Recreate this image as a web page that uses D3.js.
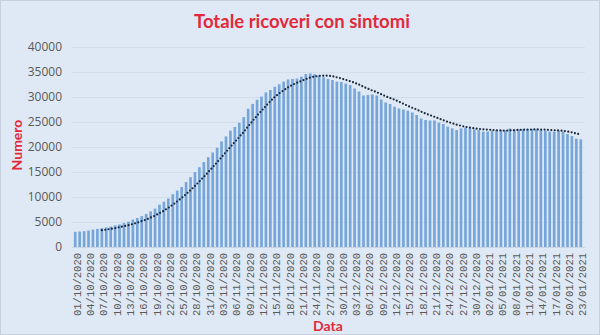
<!DOCTYPE html>
<html><head><meta charset="utf-8">
<script src="https://cdn.jsdelivr.net/npm/d3@7"></script>
<style>body{margin:0;background:#dfe9f5}svg{display:block}</style>
</head><body><svg id="c" width="600" height="335"></svg>
<script>
const title = "Totale ricoveri con sintomi";
const yTitle = "Numero";
const xTitle = "Data";
const startDate = new Date(2020, 9, 1);
const endDate = new Date(2021, 0, 23);
const yTicks = [0,5000,10000,15000,20000,25000,30000,35000,40000];
const values = [
 3047,3097,3163,3287,3487,3625,3782,3925,4086,4336,4519,4821,5076,5470,5796,6178,6617,7131,7676,8454,9057,9694,10549,11287,12006,12997,13955,14981,15964,16994,17966,
 18902,19840,21114,22116,23256,24005,24843,25981,27636,28633,29444,30081,30914,31398,32047,32536,33074,33504,33610,33684,34063,34577,34697,34577,34313,33963,33610,33400,33060,33000,
 32700,32400,31700,31100,30300,30400,30500,30300,29500,28900,28600,28060,27700,27500,27260,26900,26400,25700,25400,25300,25300,24870,24600,24070,23730,23400,23730,23900,23700,23500,23400,
 23070,23070,23300,23400,23400,23300,23700,23400,23500,23530,23530,23600,23500,23400,23300,23070,23070,23200,23070,22600,22200,21670,21530
];
const fmt = d3.timeFormat("%d/%m/%Y");
const dates = d3.timeDay.range(startDate, d3.timeDay.offset(endDate,1)).map(fmt);
const data = dates.map((d,i)=>({d, v: values[i]}));
// 7-day trailing moving average (trend line)
const ma = data.map((o,i)=> i<6 ? null : {d:o.d, v: d3.mean(values.slice(i-6,i+1))}).filter(Boolean);

const svg = d3.select("#c");
svg.append("rect").attr("x",0.5).attr("y",0.5).attr("width",599).attr("height",334)
  .attr("fill","#dfe9f5").attr("stroke","#c5d0dc");

const x = d3.scaleBand().domain(dates).range([73,583]).paddingInner(0.4).paddingOuter(0.2);
const y = d3.scaleLinear().domain([0,40000]).range([247,47]);

// grid
svg.append("g").selectAll("line").data(yTicks.slice(1)).join("line")
  .attr("x1",72).attr("x2",585).attr("y1",d=>y(d)+0.5).attr("y2",d=>y(d)+0.5)
  .attr("stroke","#d2deec").attr("stroke-width",1);

// y axis
const ya = svg.append("g").attr("transform","translate(66,0)")
  .call(d3.axisLeft(y).tickValues(yTicks).tickSize(0).tickPadding(4).tickFormat(d3.format("d")));
ya.select(".domain").remove();
ya.selectAll("text").attr("font-family","Open Sans").attr("font-size",12).attr("fill","#595959");

// bars
svg.append("g").selectAll("rect").data(data).join("rect")
  .attr("x",d=>x(d.d)).attr("width",x.bandwidth())
  .attr("y",d=>y(d.v)).attr("height",d=>y(0)-y(d.v))
  .attr("fill","#76a5da");

// baseline
svg.append("line").attr("x1",72).attr("x2",585).attr("y1",247.5).attr("y2",247.5)
  .attr("stroke","#c9d5e3");

// trend
svg.append("path").datum(ma)
  .attr("d", d3.line().x(d=>x(d.d)+x.bandwidth()/2).y(d=>y(d.v)))
  .attr("fill","none").attr("stroke","#1c2a3e").attr("stroke-width",2.2)
  .attr("stroke-linecap","round").attr("stroke-dasharray","0,3.4");

// x axis labels
const xa = svg.append("g").attr("transform","translate(0,248)")
  .call(d3.axisBottom(x).tickValues(dates.filter((d,i)=>i%3===0)).tickSize(0).tickPadding(0));
xa.select(".domain").remove();
xa.selectAll("text").attr("font-family","Liberation Mono").attr("font-size",10.5).attr("fill","#595959")
  .attr("text-anchor","end").attr("transform","rotate(-90)").attr("x",-5).attr("y",x.bandwidth()/2+0.5).attr("dy","0.35em");

// titles
const t = svg.append("text").attr("x",302).attr("y",28).attr("text-anchor","middle")
  .attr("font-family","Lato").attr("font-weight","bold").attr("font-size",19).attr("fill","#e2293b").text(title);
const tw = t.node().getComputedTextLength();
t.attr("font-size", 19*216/tw);

svg.append("text").attr("transform","translate(22,145) rotate(-90)").attr("text-anchor","middle")
  .attr("font-family","Lato").attr("font-weight","bold").attr("font-size",14).attr("fill","#e2293b").text(yTitle);
svg.append("text").attr("x",328).attr("y",331).attr("text-anchor","middle")
  .attr("font-family","Lato").attr("font-weight","bold").attr("font-size",14).attr("fill","#e2293b").text(xTitle);
</script></body></html>
